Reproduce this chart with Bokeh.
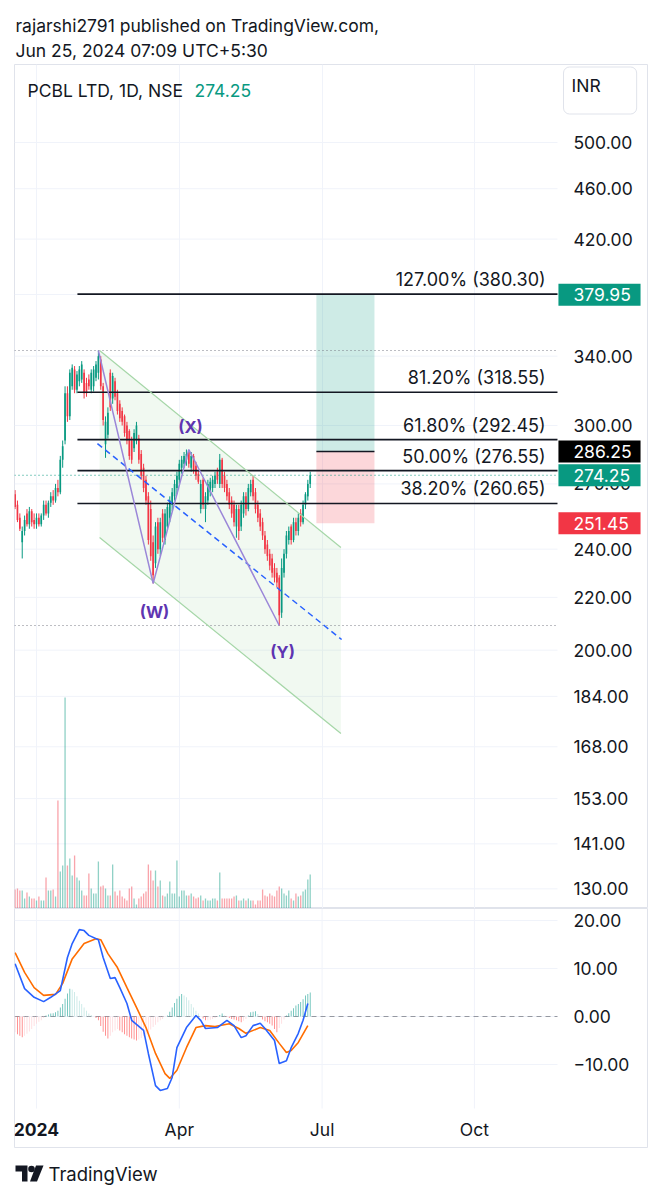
import math
from bokeh.plotting import figure
from bokeh.models import Range1d, LinearScale, FixedTicker, Label
from bokeh.layouts import column
from bokeh.embed import file_html
from bokeh.resources import INLINE
from bokeh.core.properties import value

FONT = "Inter"
TXT = "#131722"
UP = "#089981"
DOWN = "#f23645"
GRID = "#f0f3fa"

# ---------------- data ----------------
bars = list(range(-9, 116))  # trading-day index, 0 = 1 Jan 2024
open_ = [265, 260, 254, 243, 248, 256, 251, 257, 253,
         251, 254, 251, 255, 260, 256, 261, 264, 262, 268, 266, 282, 292,
         318, 305, 322, 332, 320, 325, 326, 330, 324, 326, 320, 322, 327, 330,
         338, 322, 290, 295, 330, 315, 325, 318, 312, 308, 305, 300, 297, 292, 288, 292, 293, 285, 278, 272, 264, 258,
         243, 234, 252, 240, 256, 244, 250, 254, 260, 264, 268, 272, 278, 280, 282, 286, 278, 284, 279,
         275, 258, 272, 258, 262, 266, 268, 270, 276, 270, 282, 274, 270, 266, 262, 260, 250, 258, 250, 256, 264, 258, 266,
         272, 266, 260, 256, 252, 246, 242, 238, 236, 232, 230, 228, 214, 230, 238, 244, 250, 244, 252, 248, 256, 252, 260, 264, 270]
high = [267, 262, 256, 250, 255, 258, 259, 258, 256,
        256, 256, 256, 262, 262, 262, 266, 267, 270, 272, 284, 292, 322,
        322, 332, 335, 334, 331, 334, 337, 332, 327, 329, 332, 334, 337, 343.5,
        340, 324, 305, 310, 332, 330, 327, 320, 314, 310, 306, 302, 298, 294, 298, 302, 295, 287, 280, 274, 266, 262,
        246, 252, 254, 254, 258, 258, 261, 264, 268, 272, 276, 282, 284, 286, 287.3, 287, 286, 285, 281,
        277, 272, 273, 266, 272, 273, 274, 276, 278, 285, 283, 276, 272, 268, 264, 262, 260, 260, 262, 266, 266, 270, 272,
        274, 268, 262, 258, 254, 248, 244, 240, 238, 234, 232, 229, 236, 240, 248, 250, 251, 254, 254, 256, 258, 262, 266, 272, 276]
low = [258, 252, 248, 236, 246, 250, 249, 250, 249,
       249, 250, 250, 253, 255, 254, 259, 260, 261, 264, 265, 278, 290,
       302, 303, 320, 318, 318, 322, 324, 315, 316, 320, 318, 319, 325, 326,
       320, 300, 283, 293, 308, 312, 314, 306, 302, 300, 294, 290, 282, 280, 286, 290, 280, 272, 266, 260, 242, 235,
       225.6, 232, 238, 237, 243, 242, 248, 252, 257, 262, 265, 270, 275, 278, 279, 278, 276, 275, 272,
       270, 256, 258, 252, 260, 264, 266, 268, 270, 268, 268, 266, 262, 258, 254, 250, 245, 244, 248, 254, 255, 257, 264,
       262, 256, 252, 248, 244, 238, 235, 231, 228, 226, 224, 209.1, 212, 228, 236, 242, 242, 243, 246, 246, 250, 251, 258, 262, 268]
close = [259, 253, 249, 248, 253, 251, 257, 252, 251,
         254, 251, 255, 260, 256, 261, 264, 262, 268, 266, 282, 289, 318,
         305, 330, 333, 320, 329, 332, 335, 318, 318, 322, 330, 332, 335, 340,
         322, 303, 302, 307, 310, 328, 316, 308, 304, 302, 296, 292, 284, 282, 296, 300, 282, 274, 268, 262, 244, 237,
         229, 250, 240, 252, 245, 256, 259, 262, 266, 270, 274, 280, 282, 284, 285, 280, 284, 277, 274,
         271, 270, 260, 264, 270, 271, 272, 274, 272, 282, 270, 268, 264, 260, 256, 252, 258, 248, 260, 264, 258, 268, 270,
         264, 258, 254, 250, 246, 240, 237, 233, 230, 228, 226, 213, 232, 238, 246, 248, 244, 252, 248, 254, 252, 260, 265, 270, 274.25]
volume_m = [3.8, 4.0, 3.6, 3.6, 2.0, 3.2, 2.4, 2.0, 2.0,
            1.6, 2.4, 1.6, 1.6, 6.2, 3.6, 3.6, 3.8, 2.4, 21.6, 7.4, 8.6, 42.2,
            8.6, 10.0, 6.6, 10.6, 6.2, 5.6, 3.6, 2.6, 2.6, 7.0, 4.0, 3.0, 3.0, 9.4,
            4.4, 4.6, 4.0, 2.6, 2.6, 8.8, 3.4, 2.6, 3.6, 2.4, 2.0, 1.6, 4.0, 4.4, 2.0, 0.8, 2.0, 2.4, 3.0, 3.4, 8.8, 7.6,
            5.6, 7.6, 4.4, 5.6, 2.6, 2.4, 3.0, 5.4, 3.0, 3.0, 9.6, 2.4, 3.6, 3.6, 2.6, 2.6, 3.0, 2.4, 2.0,
            2.2, 2.6, 1.6, 2.0, 1.6, 1.6, 2.0, 2.0, 1.6, 7.2, 2.0, 2.0, 2.0, 2.0, 2.0, 2.4, 2.6, 1.6, 1.6, 2.0, 1.6, 2.0, 1.6,
            1.6, 0.8, 1.6, 1.6, 3.8, 2.6, 2.4, 3.0, 2.6, 2.4, 3.6, 4.4, 4.0, 3.0, 2.6, 3.6, 2.0, 1.6, 3.0, 2.4, 2.6, 3.4, 3.8, 5.8, 6.8]
hist = [-3.3, -3.7, -4.0, -4.3, -4.0, -3.6, -3.1, -2.6, -2.0,
        -1.5, -1.1, -0.8, -0.3, 0.2, 0.4, 0.6, 0.7, 0.9, 1.2, 1.9, 2.6, 3.7,
        4.8, 5.8, 5.6, 5.1, 4.2, 3.3, 2.6, 1.9, 1.2, 0.6, 0.3, 0.0, -0.3, -0.8,
        -2.0, -3.2, -4.0, -4.6, -4.0, -3.3, -2.9, -2.6, -2.9, -3.3, -3.7, -4.0, -4.3, -4.6, -4.8, -5.0, -4.8, -4.5, -4.1, -3.7, -3.3, -2.7,
        -2.2, -1.7, -1.2, -0.8, -0.5, -0.1, 0.2, 1.0, 1.9, 2.8, 3.7, 4.2, 4.7, 4.4, 4.0, 3.4, 2.6, 1.9, 1.2,
        0.6, 0.0, -0.4, -0.8, -0.8, -0.7, -0.5, -0.3, -0.1, 0.3, 0.6, 0.2, -0.1, -0.3, -0.5, -0.6, -0.8, -1.0, -1.2, -0.9, -0.5, 0.2, 0.9,
        1.0, 1.1, 0.5, -0.1, -0.6, -1.0, -1.2, -1.5, -1.9, -2.6, -3.3, -2.4, -1.5, -0.6, 0.2, 0.7, 1.2, 1.7, 2.3, 2.6, 3.0, 3.6, 4.4, 4.7, 5.0]
macd_bars = [-9, -5, -1, 3, 6, 10, 13, 15, 18, 20, 22, 26, 28, 31, 33, 35, 38, 40, 45, 47, 50, 52,
             55, 57, 59, 63, 67, 69, 71, 76, 80, 83, 86, 88, 91, 94, 96, 100, 102, 105, 107, 110, 112, 114]
macd_vals = [11.0, 5.8, 4.0, 3.1, 4.0, 5.4, 12.3, 15.2, 18.1, 17.9, 16.9, 16.0, 12.3, 7.9, 8.1, 6.0, 2.7, -0.8,
             -2.9, -7.7, -14.4, -15.4, -15.0, -12.7, -6.5, -2.3, 0.2, -0.8, -2.5, -2.3, -0.8, -1.9, -4.4, -4.0,
             -1.9, -1.4, -2.5, -5.0, -9.8, -9.2, -6.5, -3.5, -0.8, 2.7]
signal_bars = [-9, -5, -1, 3, 8, 11, 15, 20, 25, 27, 30, 34, 38, 42, 46, 50, 54, 56, 59, 63, 67, 71,
               75, 81, 85, 88, 94, 98, 102, 105, 107, 110, 114]
signal_vals = [13.3, 9.2, 6.0, 4.4, 4.6, 6.9, 12.0, 15.2, 16.2, 16.0, 13.1, 10.2, 6.0, 1.9, -2.3, -7.7, -11.9,
               -12.9, -11.2, -6.5, -2.3, -1.9, -2.1, -1.5, -2.5, -3.5, -2.3, -2.9, -5.6, -7.5, -7.1, -5.4, -1.9]

price_ticks = [130, 141, 153, 168, 184, 200, 220, 240, 270, 300, 340, 380, 420, 460, 500]
macd_ticks = [-10, 0, 10, 20]
month_bars = [0, 60, 120, 184]
month_labels = ["2024", "Apr", "Jul", "Oct"]

fib_names = ["127.00%", "81.20%", "61.80%", "50.00%", "38.20%"]
fib_prices = [380.30, 318.55, 292.45, 276.55, 260.65]
fib_start_bar = 17.2

wave_bars = [26, 49, 64, 102]
wave_prices = [343.5, 225.6, 287.3, 209.1]
wave_names = ["(W)", "(X)", "(Y)"]
wave_name_bars = [49.6, 64.7, 103.4]
wave_name_prices = [214.4, 299.4, 199.5]

channel_bars = [26.5, 127.9]
channel_upper = [343.5, 240.7]
channel_lower = [245.1, 172.1]
midline_bars = [25.6, 128.2]
midline_prices = [290.4, 203.9]

period_high = 343.5
period_low = 209.1
last_price = 274.25
entry_price = 286.25
target_price = 379.95
stop_price = 251.45
position_bars = [117.6, 142.0]

tag_prices = [target_price, entry_price, last_price, stop_price]
tag_colors = ["#089981", "#000000", "#089981", "#f23645"]

# ---------------- layout constants ----------------
W = 661
X0, X1 = -9.244, 256.72       # bar range across the bordered chart box
PANE_END = 218.9              # right end of the plotting area (price scale starts here)
SCALE_X = 225.6               # left edge of scale labels
TAG_L, TAG_R = 219.3, 253.8   # price tag box
TAG_HALF = math.exp(11 / 554)  # half tag height (11 px) on the log price scale
XR = Range1d(X0, X1)

def fmt(v):
    return f"{v:.2f}".replace("-", "\u2212")

def base_fig(**kw):
    return figure(width=W, output_backend="svg", toolbar_location=None,
                  x_axis_location=None, y_axis_location=None,
                  min_border_left=14, min_border_right=14, min_border_top=0, min_border_bottom=0, **kw)

# header (page coordinates; frame spans page x 14..647)
h = base_fig(height=64, x_range=Range1d(14, 647), y_range=Range1d(64, 0))
h.grid.grid_line_color = None
h.outline_line_color = None
h.text(x=[15, 15], y=[25, 50], text=["rajarshi2791 published on TradingView.com,", "Jun 25, 2024 07:09 UTC+5:30"],
       text_baseline="middle", text_font=value(FONT), text_font_size="17.5px", text_color=TXT)

# price pane
p = base_fig(height=844, x_range=XR, y_range=Range1d(125.47, 575.6), y_axis_type="log")
p.outline_line_color = "#e0e3eb"
p.extra_y_ranges = {"vol": Range1d(0, 168.8)}
p.extra_y_scales = {"vol": LinearScale()}
p.xgrid.ticker = FixedTicker(ticks=month_bars)
p.xgrid.grid_line_color = GRID
p.ygrid.grid_line_color = None
n = len(price_ticks)
p.segment(x0=[X0] * n, x1=[PANE_END] * n, y0=price_ticks, y1=price_ticks, line_color=GRID, line_width=1)
p.text(x=[SCALE_X] * n, y=price_ticks, text=[fmt(t) for t in price_ticks], text_align="left",
       text_baseline="middle", text_font=value(FONT), text_font_size="17.5px", text_color=TXT)

# channel fill
p.patch(x=[channel_bars[0], channel_bars[1], channel_bars[1], channel_bars[0]],
        y=[channel_upper[0], channel_upper[1], channel_lower[1], channel_lower[0]],
        fill_color="#4caf50", fill_alpha=0.08, line_color=None)
# long position
p.quad(left=[position_bars[0]], right=[position_bars[1]], bottom=[entry_price], top=[target_price],
       fill_color="#089981", fill_alpha=0.2, line_color=None)
p.quad(left=[position_bars[0]], right=[position_bars[1]], bottom=[stop_price], top=[entry_price],
       fill_color="#f23645", fill_alpha=0.2, line_color=None)
p.segment(x0=[position_bars[0]], x1=[position_bars[1]], y0=[entry_price], y1=[entry_price],
          line_color="#131722", line_width=1.5)

# volume
cols = [UP if c >= o else DOWN for o, c in zip(open_, close)]
p.vbar(x=bars, top=volume_m, bottom=0, width=0.55, y_range_name="vol",
       fill_color=cols, line_color=None, fill_alpha=0.45)

# candles
p.segment(x0=bars, x1=bars, y0=low, y1=high, line_color=cols, line_width=1)
bt = [max(o, c) for o, c in zip(open_, close)]
bb = [min(o, c) for o, c in zip(open_, close)]
p.vbar(x=bars, top=bt, bottom=bb, width=0.7, fill_color=cols, line_color=None)

# dotted reference lines
p.segment(x0=[X0] * 3, x1=[PANE_END] * 3, y0=[period_high, period_low, last_price],
          y1=[period_high, period_low, last_price], line_color=["#787b86", "#787b86", UP],
          line_dash="1 3", line_width=1)

# fib lines
k = len(fib_prices)
p.segment(x0=[fib_start_bar] * k, x1=[PANE_END] * k, y0=fib_prices, y1=fib_prices,
          line_color="#131722", line_width=1.6)
p.text(x=[213.9] * k, y=fib_prices,
       text=[f"{nm} ({v:.2f})" for nm, v in zip(fib_names, fib_prices)],
       text_align="right", text_baseline="bottom", y_offset=-4,
       text_font=value(FONT), text_font_size="18px", text_color=TXT)

# channel edges, midline, waves
p.line(x=channel_bars, y=channel_upper, line_color="#a5d6a7", line_width=1.2)
p.line(x=channel_bars, y=channel_lower, line_color="#a5d6a7", line_width=1.2)
p.line(x=midline_bars, y=midline_prices, line_color="#2962ff", line_width=1.5, line_dash="6 4")
p.line(x=wave_bars, y=wave_prices, line_color="#9b87d8", line_width=1.5)
p.text(x=wave_name_bars, y=wave_name_prices, text=wave_names, text_align="center", text_baseline="middle",
       text_font=value(FONT), text_font_size="16.5px", text_font_style="bold", text_color="#5e35b1")

# price tags on the scale
nt = len(tag_prices)
p.quad(left=[TAG_L] * nt, right=[TAG_R] * nt, bottom=[v / TAG_HALF for v in tag_prices],
       top=[v * TAG_HALF for v in tag_prices], fill_color=tag_colors, line_color=None)
p.text(x=[SCALE_X] * nt, y=tag_prices, text=[f"{v:.2f}" for v in tag_prices], text_align="left",
       text_baseline="middle", text_font=value(FONT), text_font_size="17.5px", text_color="white")

# legend text
p.add_layout(Label(x=13, y=818, x_units="screen", y_units="screen", text="PCBL LTD, 1D, NSE",
                   text_font=FONT, text_font_size="17.5px", text_color=TXT, text_baseline="middle"))
p.add_layout(Label(x=180, y=818, x_units="screen", y_units="screen", text=f"{last_price:.2f}",
                   text_font=FONT, text_font_size="17.5px", text_color=UP, text_baseline="middle"))
p.add_layout(Label(x=549, y=818, x_units="screen", y_units="screen", text="INR",
                   text_font=FONT, text_font_size="17.5px", text_color=TXT, text_baseline="middle",
                   background_fill_color="white", border_line_color="#e0e3eb",
                   padding=(8, 36, 8, 18), border_radius=6))

# MACD pane (frame also covers the time-scale row)
m = base_fig(height=240, x_range=XR, y_range=Range1d(-27.5, 22.5))
m.outline_line_color = "#e0e3eb"
m.grid.grid_line_color = None
nm_ = len(macd_ticks)
m.segment(x0=[X0] * nm_, x1=[PANE_END] * nm_, y0=macd_ticks, y1=macd_ticks, line_color=GRID, line_width=1)
nb = len(month_bars)
m.segment(x0=month_bars, x1=month_bars, y0=[-19.17] * nb, y1=[22.5] * nb, line_color=GRID, line_width=1)
m.text(x=[SCALE_X] * nm_, y=macd_ticks, text=[fmt(t) for t in macd_ticks], text_align="left",
       text_baseline="middle", text_font=value(FONT), text_font_size="17.5px", text_color=TXT)
m.text(x=month_bars[1:], y=[-23.54] * (nb - 1), text=month_labels[1:], text_align="center",
       text_baseline="middle", text_font=value(FONT), text_font_size="17.5px", text_color=TXT)
m.text(x=month_bars[:1], y=[-23.54], text=month_labels[:1], text_align="center",
       text_baseline="middle", text_font=value(FONT), text_font_size="17.5px", text_font_style="bold",
       text_color=TXT)
m.segment(x0=[X0], x1=[PANE_END], y0=[0], y1=[0], line_color="#9598a1", line_dash="5 4", line_width=1)

hcols = []
for i, v in enumerate(hist):
    prev = hist[i - 1] if i > 0 else v
    if v >= 0:
        hcols.append("#26a69a" if v >= prev else "#b2dfdb")
    else:
        hcols.append("#ff5252" if v < prev else "#ffcdd2")
m.vbar(x=bars, top=hist, bottom=0, width=0.35, fill_color=hcols, line_color=None, fill_alpha=0.75)
m.line(x=signal_bars, y=signal_vals, line_color="#ff6d00", line_width=1.6)
m.line(x=macd_bars, y=macd_vals, line_color="#2962ff", line_width=1.6)

# footer (page coordinates)
f = base_fig(height=50, x_range=Range1d(14, 647), y_range=Range1d(1198, 1148))
f.grid.grid_line_color = None
f.outline_line_color = None
f.patch(x=[15, 27, 27, 21.5, 21.5, 15], y=[1165, 1165, 1181, 1181, 1171, 1171], fill_color=TXT, line_color=None)
f.circle(x=[31], y=[1168.5], radius=3.3, fill_color=TXT, line_color=None)
f.patch(x=[35.5, 43, 36.5, 29.5], y=[1165, 1165, 1181, 1181], fill_color=TXT, line_color=None)
f.text(x=[48], y=[1173], text=["TradingView"], text_baseline="middle",
       text_font=value(FONT), text_font_size="18.5px", text_color=TXT)

layout = column(h, p, m, f, spacing=0)
open("out.html", "w").write(file_html(layout, INLINE))
